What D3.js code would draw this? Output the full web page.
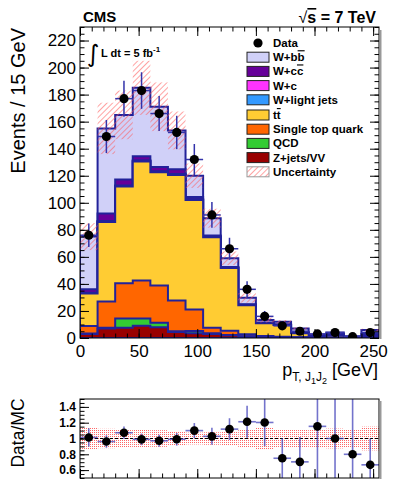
<!DOCTYPE html>
<html>
<head>
<meta charset="utf-8">
<script src="https://cdn.jsdelivr.net/npm/d3@7"></script>
<style>
  body { margin: 0; background: #fff; }
  svg { display: block; font-family: "Liberation Sans", Arial, Helvetica, sans-serif; }
</style>
</head>
<body>
<svg id="chart" width="399" height="487"></svg>
<script>
// bin edges in GeV (15 GeV bins)
const binEdges = [0, 15, 30, 45, 60, 75, 90, 105, 120, 135, 150, 165, 180, 195, 210, 225, 240, 255];

// observed events per bin
const dataCounts = [76, 149, 177, 183, 166, 152, 132, 91, 66, 36, 16, 9, 5, 3, 4, 1, 4];

// simulated contributions per bin (stack order bottom -> top)
const zjetsVV   = [3.0, 7.0, 7.5, 9.0, 8.0, 4.5, 3.5, 3.0, 2.0, 1.2, 0.6, 0.5, 0.3, 0.2, 0.2, 0.1, 0.3];
const qcd       = [0.3, 0.5, 7.0, 5.5, 3.3, 0.5, 1.7, 0.5, 0.3, 0.1, 0.0, 0.0, 0.0, 0.0, 0.0, 0.0, 0.0];
const singleTop = [5.5, 19.5, 26.0, 28.0, 27.5, 22.7, 15.8, 4.0, 3.0, 1.5, 0.8, 0.5, 0.3, 0.2, 0.3, 0.1, 0.2];
const ttbar     = [24.2, 58.7, 71.5, 88.0, 83.7, 92.8, 81.0, 67.0, 46.5, 21.5, 9.5, 8.6, 3.0, 0.6, 1.8, 0.3, 0.5];
const wLight    = [0.3, 0.5, 0.5, 0.5, 0.5, 0.5, 0.4, 0.3, 0.2, 0.1, 0.1, 0.1, 0.1, 0.1, 0.1, 0.1, 0.2];
const wC        = [0.2, 0.3, 0.3, 0.3, 0.3, 0.3, 0.2, 0.2, 0.1, 0.1, 0.1, 0.1, 0.1, 0.1, 0.1, 0.1, 0.1];
const wCC       = [2.5, 5.5, 4.5, 3.2, 3.2, 3.5, 1.6, 0.8, 0.5, 0.4, 0.3, 0.3, 0.6, 0.4, 0.5, 0.2, 1.7];
const wBB       = [39.0, 63.0, 47.7, 50.5, 44.5, 28.7, 15.8, 12.8, 6.4, 4.8, 1.9, 1.9, 2.7, 1.0, 1.0, 0.35, 3.0];

// absolute uncertainty on the total prediction
const mcUncert  = [10, 19, 18, 20, 18, 14, 9, 7, 5, 3.5, 1.8, 1.3, 0.8, 0.3, 0.5, 0.15, 0.9];

// axis ticks
const xTicks = [0, 50, 100, 150, 200, 250];
const yTicks = [0, 20, 40, 60, 80, 100, 120, 140, 160, 180, 200, 220];
const ratioTicks = [0.6, 0.8, 1, 1.2, 1.4];

const processes = [
  { key: 'zvv',   label: 'Z+jets/VV',        color: '#990000', values: zjetsVV },
  { key: 'qcd',   label: 'QCD',              color: '#33cc33', values: qcd },
  { key: 'stop',  label: 'Single top quark', color: '#ff6600', values: singleTop },
  { key: 'tt',    label: 'tt',               color: '#ffcc33', values: ttbar },
  { key: 'wl',    label: 'W+light jets',     color: '#3399ff', values: wLight },
  { key: 'wc',    label: 'W+c',              color: '#ff33ff', values: wC },
  { key: 'wcc',   label: 'W+cc',             color: '#660099', values: wCC },
  { key: 'wbb',   label: 'W+bb',             color: '#d0d0f8', values: wBB }
];

const outline = '#22229a';
const errColor = '#3333aa';

const svg = d3.select('#chart');

// frames
const main = { left: 80, right: 379, top: 27, bottom: 338 };
const rat  = { left: 80, right: 379, top: 399, bottom: 478 };

const x = d3.scaleLinear().domain([0, 255]).range([main.left, main.right]);
const y = d3.scaleLinear().domain([0, 230]).range([main.bottom, main.top]);
const yr = d3.scaleLinear().domain([0.5, 1.5]).range([rat.bottom, rat.top]);

// patterns
const defs = svg.append('defs');
defs.append('pattern')
  .attr('id', 'hatch')
  .attr('patternUnits', 'userSpaceOnUse')
  .attr('width', 4).attr('height', 4)
  .attr('patternTransform', 'rotate(45)')
  .append('line')
  .attr('x1', 0).attr('y1', 0).attr('x2', 0).attr('y2', 4)
  .attr('stroke', '#ff5555').attr('stroke-width', 1.1);

const dots = defs.append('pattern')
  .attr('id', 'dots')
  .attr('patternUnits', 'userSpaceOnUse')
  .attr('width', 2).attr('height', 2);
dots.append('rect').attr('width', 1).attr('height', 1).attr('fill', '#ff6666');

defs.append('clipPath').attr('id', 'clipMain')
  .append('rect').attr('x', main.left).attr('y', main.top)
  .attr('width', main.right - main.left).attr('height', main.bottom - main.top);
defs.append('clipPath').attr('id', 'clipRatio')
  .append('rect').attr('x', rat.left).attr('y', rat.top)
  .attr('width', rat.right - rat.left).attr('height', rat.bottom - rat.top);

// stack
const rows = binEdges.slice(0, -1).map((lo, i) => {
  const r = { lo: lo, hi: binEdges[i + 1] };
  processes.forEach(p => { r[p.key] = p.values[i]; });
  return r;
});
const stacked = d3.stack().keys(processes.map(p => p.key))(rows);
const totals = stacked[stacked.length - 1].map(d => d[1]);

function stepPoints(vals) {
  const pts = [[binEdges[0], 0]];
  vals.forEach((v, i) => {
    pts.push([binEdges[i], v]);
    pts.push([binEdges[i + 1], v]);
  });
  pts.push([binEdges[binEdges.length - 1], 0]);
  return pts;
}

const stepLine = d3.line().x(d => x(d[0])).y(d => y(d[1]));

const gStack = svg.append('g').attr('clip-path', 'url(#clipMain)');
// ROOT-like drawing: top of stack first, each layer filled down to zero
stacked.slice().reverse().forEach((layer, k) => {
  const proc = processes[processes.length - 1 - k];
  const tops = layer.map(d => d[1]);
  const path = stepLine(stepPoints(tops));
  gStack.append('path')
    .attr('d', path + 'Z')
    .attr('fill', proc.color)
    .attr('stroke', outline)
    .attr('stroke-width', 2);
});

// uncertainty band
gStack.selectAll('rect.unc')
  .data(rows)
  .join('rect')
  .attr('class', 'unc')
  .attr('x', d => x(d.lo))
  .attr('width', d => x(d.hi) - x(d.lo))
  .attr('y', (d, i) => y(totals[i] + mcUncert[i]))
  .attr('height', (d, i) => y(totals[i] - mcUncert[i]) - y(totals[i] + mcUncert[i]))
  .attr('fill', 'url(#hatch)');

// data points
const gData = svg.append('g').attr('clip-path', 'url(#clipMain)');
rows.forEach((d, i) => {
  const n = dataCounts[i];
  const e = Math.sqrt(n);
  const cx = x((d.lo + d.hi) / 2);
  gData.append('line')
    .attr('x1', cx).attr('x2', cx)
    .attr('y1', y(n - e)).attr('y2', y(n + e))
    .attr('stroke', errColor).attr('stroke-width', 1.5);
  gData.append('line')
    .attr('x1', x(d.lo)).attr('x2', x(d.hi))
    .attr('y1', y(n)).attr('y2', y(n))
    .attr('stroke', errColor).attr('stroke-width', 1.5);
  gData.append('circle')
    .attr('cx', cx).attr('cy', y(n)).attr('r', 4.6)
    .attr('fill', '#000');
});

// frame + axes (ticks inside, ROOT style)
function minorRange(a, b, step) {
  const out = [];
  for (let v = a; v <= b + 1e-9; v += step) out.push(+v.toFixed(4));
  return out;
}

function addAxis(axisFn, scale, pos, major, minorStep, dom, labels) {
  const g1 = svg.append('g').attr('transform', pos)
    .call(axisFn(scale).tickValues(minorRange(dom[0], dom[1], minorStep))
      .tickSize(-4.5).tickSizeOuter(0).tickFormat(''));
  g1.select('.domain').remove();
  const g2 = svg.append('g').attr('transform', pos)
    .call(axisFn(scale).tickValues(major).tickSize(-9).tickSizeOuter(0)
      .tickPadding(4).tickFormat(labels || ''));
  g2.select('.domain').remove();
  svg.selectAll('.tick line').attr('stroke', '#000');
  return g2;
}

const yLab = addAxis(d3.axisLeft, y, `translate(${main.left},0)`, yTicks, 5, [0, 230], d3.format('d'));
yLab.selectAll('text').attr('font-size', 17).attr('fill', '#000')
  .attr('font-family', '"Liberation Sans", Arial, sans-serif');
addAxis(d3.axisRight, y, `translate(${main.right},0)`, yTicks, 5, [0, 230], null);
const xLab = addAxis(d3.axisBottom, x, `translate(0,${main.bottom})`, xTicks, 10, [0, 250], d3.format('d'));
xLab.selectAll('text').attr('font-size', 17).attr('fill', '#000')
  .attr('font-family', '"Liberation Sans", Arial, sans-serif').attr('dy', '0.9em');
addAxis(d3.axisTop, x, `translate(0,${main.top})`, xTicks, 10, [0, 250], null);

svg.append('rect')
  .attr('x', main.left).attr('y', main.top)
  .attr('width', main.right - main.left).attr('height', main.bottom - main.top)
  .attr('fill', 'none').attr('stroke', '#000').attr('stroke-width', 1);
svg.append('line')
  .attr('x1', main.right + 1.5).attr('x2', main.right + 1.5)
  .attr('y1', main.top + 3).attr('y2', main.bottom + 1)
  .attr('stroke', '#999').attr('stroke-width', 2);

// titles
svg.append('text')
  .attr('x', 83).attr('y', 22)
  .attr('font-size', 15).attr('font-weight', 'bold')
  .text('CMS');

const sq = svg.append('text')
  .attr('x', 376).attr('y', 23)
  .attr('text-anchor', 'end')
  .attr('font-size', 16).attr('font-weight', 'bold');
sq.append('tspan').attr('font-weight', 'normal').text('\u221A');
sq.append('tspan').style('text-decoration', 'overline').text('s');
sq.append('tspan').text(' = 7 TeV');

svg.append('text')
  .attr('x', 87).attr('y', 62)
  .attr('font-size', 24)
  .attr('font-family', '"DejaVu Sans", sans-serif')
  .attr('font-weight', 'normal')
  .text('\u222B');
const lumi = svg.append('text')
  .attr('x', 101).attr('y', 57)
  .attr('font-size', 11).attr('font-weight', 'bold');
lumi.append('tspan').text('L dt = 5 fb');
lumi.append('tspan').attr('font-size', 8).attr('dy', -5).text('-1');

svg.append('text')
  .attr('transform', `translate(25,${main.top + 1}) rotate(-90)`)
  .attr('text-anchor', 'end')
  .attr('font-size', 20)
  .text('Events / 15 GeV');

const xt = svg.append('text')
  .attr('x', 378).attr('y', 376)
  .attr('text-anchor', 'end')
  .attr('font-size', 18);
xt.append('tspan').text('p');
xt.append('tspan').attr('font-size', 12).attr('dy', 5).text('T, J');
xt.append('tspan').attr('font-size', 9).attr('dy', 3).text('1');
xt.append('tspan').attr('font-size', 12).attr('dy', -3).text('J');
xt.append('tspan').attr('font-size', 9).attr('dy', 3).text('2');
xt.append('tspan').attr('dy', -8).text(' [GeV]');

// legend
const legX = 247, legY = 43, legStep = 14.2;
const legend = svg.append('g').attr('font-size', 11.5).attr('font-weight', 'bold');
legend.append('circle').attr('cx', legX + 11).attr('cy', legY).attr('r', 4.6).attr('fill', '#000');
legend.append('text').attr('x', legX + 26).attr('y', legY + 4).text('Data');

const legendOrder = processes.slice().reverse();
legendOrder.forEach((p, i) => {
  const cy = legY + legStep * (i + 1) + (i >= 4 ? 1 : 0);
  legend.append('rect')
    .attr('x', legX).attr('y', cy - 5).attr('width', 22).attr('height', 10)
    .attr('fill', p.color).attr('stroke', '#222').attr('stroke-width', 1);
  const t = legend.append('text').attr('x', legX + 26).attr('y', cy + 4);
  if (p.key === 'wbb') {
    t.append('tspan').text('W+b');
    t.append('tspan').style('text-decoration', 'overline').text('b');
  } else if (p.key === 'wcc') {
    t.append('tspan').text('W+c');
    t.append('tspan').style('text-decoration', 'overline').text('c');
  } else if (p.key === 'tt') {
    t.append('tspan').text('t');
    t.append('tspan').style('text-decoration', 'overline').text('t');
  } else {
    t.text(p.label);
  }
});
{
  const cy = legY + legStep * (legendOrder.length + 1) + 1;
  legend.append('rect')
    .attr('x', legX).attr('y', cy - 5).attr('width', 22).attr('height', 10)
    .attr('fill', 'url(#hatch)').attr('stroke', '#999').attr('stroke-width', 1);
  legend.append('text').attr('x', legX + 26).attr('y', cy + 4).text('Uncertainty');
}

// ratio panel
const gRat = svg.append('g').attr('clip-path', 'url(#clipRatio)');
gRat.selectAll('rect.band')
  .data(rows)
  .join('rect')
  .attr('class', 'band')
  .attr('x', d => x(d.lo))
  .attr('width', d => x(d.hi) - x(d.lo))
  .attr('y', (d, i) => yr(1 + mcUncert[i] / totals[i]))
  .attr('height', (d, i) => yr(1 - mcUncert[i] / totals[i]) - yr(1 + mcUncert[i] / totals[i]))
  .attr('fill', 'url(#dots)');

gRat.append('line')
  .attr('x1', rat.left).attr('x2', rat.right)
  .attr('y1', yr(1)).attr('y2', yr(1))
  .attr('stroke', '#000').attr('stroke-width', 1)
  .attr('stroke-dasharray', '3,2');

rows.forEach((d, i) => {
  const n = dataCounts[i];
  const r = n / totals[i];
  const e = Math.sqrt(n) / totals[i];
  const cx = x((d.lo + d.hi) / 2);
  gRat.append('line')
    .attr('x1', cx).attr('x2', cx)
    .attr('y1', yr(r - e)).attr('y2', yr(r + e))
    .attr('stroke', '#4444bb').attr('stroke-opacity', 0.75).attr('stroke-width', 1.6);
  gRat.append('line')
    .attr('x1', x(d.lo)).attr('x2', x(d.hi))
    .attr('y1', yr(r)).attr('y2', yr(r))
    .attr('stroke', '#4444bb').attr('stroke-opacity', 0.75).attr('stroke-width', 1.6);
  gRat.append('circle')
    .attr('cx', cx).attr('cy', yr(r)).attr('r', 4.3)
    .attr('fill', '#000');
});

const rLab = addAxis(d3.axisLeft, yr, `translate(${rat.left},0)`, ratioTicks, 0.05, [0.5, 1.5],
  d => (d === 1 ? '1' : d3.format('.1f')(d)));
rLab.selectAll('text').attr('font-size', 12).attr('font-weight', 'bold').attr('fill', '#000')
  .attr('font-family', '"Liberation Sans", Arial, sans-serif');
addAxis(d3.axisBottom, x, `translate(0,${rat.bottom})`, xTicks, 10, [0, 250], null);

svg.append('rect')
  .attr('x', rat.left).attr('y', rat.top)
  .attr('width', rat.right - rat.left).attr('height', rat.bottom - rat.top)
  .attr('fill', 'none').attr('stroke', '#000').attr('stroke-width', 1);
svg.append('line')
  .attr('x1', rat.right + 1.5).attr('x2', rat.right + 1.5)
  .attr('y1', rat.top + 2).attr('y2', rat.bottom + 1)
  .attr('stroke', '#999').attr('stroke-width', 2);

svg.append('text')
  .attr('transform', 'translate(24,433) rotate(-90)')
  .attr('text-anchor', 'middle')
  .attr('font-size', 17.5)
  .text('Data/MC');
</script>
</body>
</html>
